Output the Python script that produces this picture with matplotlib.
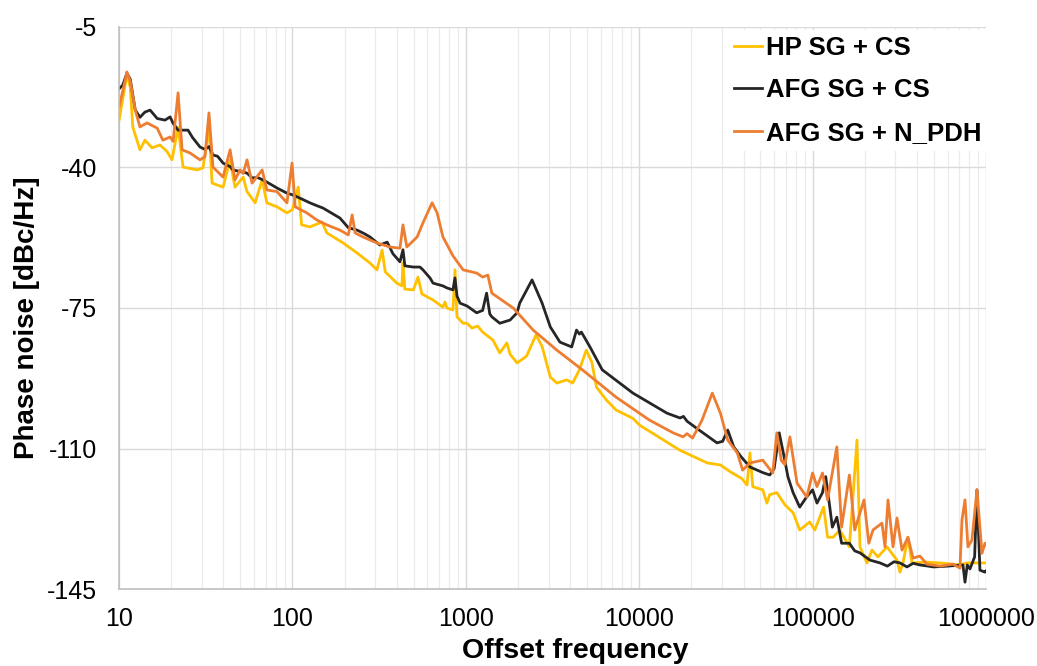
import matplotlib
matplotlib.use("Agg")
import matplotlib.pyplot as plt
import numpy as np
from matplotlib.ticker import FixedLocator, FixedFormatter, LogLocator, NullFormatter

# phase noise curves: (offset frequency [Hz], dBc/Hz)
hp_sg_cs = [
    (10, -28.2), (10.5, -23), (11.1, -16.8), (11.6, -20), (12.0, -29.9), (13.2, -35.6),
    (14.1, -33.2), (15.5, -35.1), (17.2, -34.4), (18.9, -36.0), (20.2, -38.1), (21.9, -30),
    (23.4, -39.9), (28.2, -40.6), (30.5, -40.1), (33.0, -29.9), (34.4, -43.9), (39.8, -44.9),
    (43.7, -38.1), (46.6, -44.9), (52.0, -42.4), (54.7, -46.0), (60.9, -48.8), (66.9, -43.1),
    (71.2, -48.8), (81.4, -49.8), (93, -51.3), (100, -50.5), (108, -44.9), (113, -54.3),
    (126, -54.8), (148, -53.6), (158, -56.3), (196, -58.8), (236, -61.3), (280, -63.8),
    (307, -65.5), (329, -60.6), (343, -66.0), (400, -68.8), (428, -69.5), (434, -63.8),
    (445, -70.3), (498, -70.5), (530, -67.3), (558, -71.5), (647, -73.0), (738, -74.8),
    (758, -73.5), (778, -75), (843, -75.5), (866, -65.5), (889, -77.2), (964, -78.8),
    (1016, -78.8), (1085, -80.0), (1171, -79.5), (1250, -81.0), (1434, -83.0), (1570, -86.2),
    (1725, -83.7), (1800, -86.5), (1975, -88.7), (2240, -87.0), (2540, -81.7), (2755, -84.6),
    (3070, -92.2), (3350, -93.7), (3820, -92.9), (4130, -93.7), (4520, -90.4), (4950, -85.5),
    (5330, -88.5), (5670, -94.7), (6460, -97.9), (7350, -100.4), (9200, -102.5), (10070, -104.2),
    (17120, -110.4), (24700, -113.6), (29400, -114.1), (31500, -115.0), (33800, -115.9),
    (39100, -117.5), (41900, -119.1), (43500, -111.1), (45200, -119.5), (51600, -120.3),
    (54500, -123.6), (56600, -121.5), (62200, -121.0), (69200, -124), (77200, -126),
    (84300, -130.3), (96300, -128.3), (103000, -130.3), (115800, -124.6), (122000, -132.1),
    (131500, -132.1), (143500, -130.3), (163000, -134.5), (180300, -107.9), (187600, -134.5),
    (205900, -138.5), (220100, -135.3), (238300, -137), (268500, -134.5), (306700, -137.8),
    (319200, -140.8), (332200, -138.5), (354800, -132.1), (374200, -138.5), (456600, -138.3),
    (542800, -138.5), (707900, -139), (776400, -138.5), (1000000, -138.5),
]

afg_sg_cs = [
    (10, -20.4), (10.5, -19.5), (11.1, -16.5), (11.6, -18), (12.4, -25.7), (13.2, -27.5),
    (14.1, -26.2), (15.1, -25.7), (16.6, -27.8), (18.4, -28.2), (19.7, -27.4), (20.5, -29.0),
    (21.9, -30.7), (25.0, -30.7), (26.5, -32.5), (29.3, -34.9), (31.3, -35.5), (33.0, -34.8),
    (34.8, -36.9), (37.0, -37.2), (39.8, -38.9), (43.7, -39.8), (45.4, -40.6), (50, -41.0),
    (54.7, -41.4), (58.5, -42.6), (63, -42.5), (67.6, -43.1), (75, -44.2), (81.4, -45.1),
    (93, -46.4), (100, -46.8), (110, -47.6), (126, -48.8), (138, -49.5), (150, -50.1),
    (170, -51.5), (188, -52.6), (210, -55.0), (236, -55.6), (260, -56.5), (280, -57.3),
    (319, -59.3), (352, -58.6), (380, -61.5), (417, -63.5), (434, -60.5), (445, -64.5),
    (498, -64.8), (544, -64.8), (566, -65.5), (621, -67.5), (647, -68.8), (738, -69.5),
    (778, -70.0), (843, -70.5), (866, -67.5), (889, -72), (927, -73.8), (1016, -74.5),
    (1155, -76.2), (1250, -75.6), (1318, -71.3), (1375, -76.5), (1413, -77.2), (1570, -78.8),
    (1800, -78.0), (1975, -76.2), (2045, -73.8), (2410, -68.0), (2755, -73.8), (3070, -79.7),
    (3490, -83.5), (4080, -84.7), (4350, -80.5), (4520, -81.5), (4640, -81.0), (5200, -84.7),
    (6120, -90.4), (9200, -96.2), (14460, -101.2), (17190, -102.4), (18000, -102.0),
    (18870, -103.2), (21500, -105.0), (24600, -106.8), (28100, -108.6), (30300, -108.2),
    (32400, -105.4), (35100, -109.6), (38600, -112.0), (43500, -114.6), (51600, -116.0),
    (56600, -116.6), (60000, -115), (64200, -106.1), (69200, -113), (72000, -117),
    (77200, -121), (84300, -124.6), (92600, -122), (100000, -120.3), (106000, -123.6),
    (114000, -121), (119000, -117), (126000, -125), (130000, -129.6), (138000, -127.1),
    (147000, -133.6), (163000, -133.6), (175000, -135.5), (187600, -136), (214300, -137.8),
    (244700, -138.5), (270000, -139.3), (295000, -138.2), (319200, -138.5), (350000, -139.5),
    (380000, -138.6), (416000, -139), (500000, -139.5), (600000, -139.3), (736400, -139),
    (756800, -143.3), (780000, -139), (808500, -140), (860000, -137), (887100, -120.3),
    (922900, -140.3), (986300, -140.8), (1000000, -140.5),
]

afg_sg_npdh = [
    (10, -24.9), (10.5, -21), (11.1, -16.2), (11.6, -18.5), (12.4, -25.7), (13.2, -29.9),
    (14.5, -28.9), (16.6, -30.2), (17.9, -33.2), (19.7, -32.4), (20.5, -33.5), (21.9, -21.4),
    (23.1, -35.6), (25.7, -36.4), (29.3, -38.1), (31.3, -37.3), (33.0, -26.4), (34.8, -39.9),
    (39.8, -42.4), (43.7, -35.6), (46.6, -43.1), (49.9, -40.6), (52, -41.5), (54.7, -38.1),
    (58.5, -43.9), (66.9, -40.6), (71.2, -45.6), (81.4, -46.0), (93, -48.8), (99.5, -38.9),
    (103.7, -49.8), (121, -51.3), (138.5, -53.1), (158, -54.3), (188, -55.6), (210, -56.8),
    (221, -51.8), (230, -56.3), (255, -57.3), (307, -58.8), (364, -59.8), (417, -60.1),
    (434, -54.3), (457, -59.8), (524, -57.3), (566, -53.8), (639, -48.8), (683, -51.3),
    (738, -57.3), (843, -62), (964, -65.5), (1155, -66.3), (1250, -67.3), (1340, -66.8),
    (1413, -71.3), (1876, -75.0), (2445, -80.5), (3350, -85.5), (4700, -90.4), (7350, -97.2),
    (11430, -102.9), (15700, -106.1), (17900, -107.1), (18870, -106.3), (20300, -107.4),
    (23000, -103), (26400, -96.2), (29400, -101.2), (32400, -107.9), (36800, -111.1),
    (39500, -115.4), (43500, -113.6), (51600, -112.9), (58900, -116.1), (62200, -106.1),
    (66000, -113), (69200, -114), (74000, -107.1), (81300, -118.6), (92600, -122.1),
    (100000, -116.1), (106000, -119.5), (114000, -116.1), (122000, -122.8), (138000, -109.6),
    (147000, -129.6), (163000, -116.6), (175000, -130.3), (198000, -122.8), (211000, -133.6),
    (223000, -130.3), (251200, -128.6), (261600, -134.5), (272200, -122.8), (290900, -134.5),
    (306700, -127.3), (327900, -135.3), (354800, -132.1), (379400, -137.3), (416000, -136.8),
    (456600, -138.8), (542800, -139.3), (645200, -138.8), (707900, -139.8), (727000, -127.8),
    (756800, -122.8), (787000, -134.5), (830000, -132.8), (887100, -120.3), (948300, -136.1),
    (986300, -133.6), (1000000, -134),
]

series_labels = ["HP SG + CS", "AFG SG + CS", "AFG SG + N_PDH"]
series_colors = ["#FFC000", "#262626", "#ED7D31"]
y_ticks = [-5, -40, -75, -110, -145]
x_ticks = [10, 100, 1000, 10000, 100000, 1000000]

plt.rcParams["font.family"] = ["Liberation Sans", "DejaVu Sans"]
plt.rcParams["axes.unicode_minus"] = False

fig = plt.figure(figsize=(10.37, 6.66), dpi=100)
ax = fig.add_axes([0.1148, 0.1156, 0.836, 0.8439])

for data, label, color in zip([hp_sg_cs, afg_sg_cs, afg_sg_npdh], series_labels, series_colors):
    arr = np.array(data)
    ax.plot(arr[:, 0], arr[:, 1], color=color, lw=2.0, label=label, solid_joinstyle="round")

ax.set_xscale("log")
ax.set_xlim(10, 1e6)
ax.set_ylim(-145, -5)

ax.xaxis.set_major_locator(FixedLocator(x_ticks))
ax.xaxis.set_major_formatter(FixedFormatter([str(t) for t in x_ticks]))
ax.xaxis.set_minor_locator(LogLocator(base=10, subs=np.arange(2, 10)))
ax.xaxis.set_minor_formatter(NullFormatter())
ax.set_yticks(y_ticks)

ax.grid(True, which="major", color="#D9D9D9", lw=1.0)
ax.grid(True, which="minor", axis="x", color="#EBEBEB", lw=0.9)
ax.set_axisbelow(True)

for side in ["top", "right"]:
    ax.spines[side].set_visible(False)
for side in ["left", "bottom"]:
    ax.spines[side].set_color("#BFBFBF")
    ax.spines[side].set_linewidth(1.2)

ax.tick_params(axis="both", which="both", length=0, labelsize=18)
ax.tick_params(axis="y", pad=16)
ax.tick_params(axis="x", pad=13)

ax.set_xlabel("Offset frequency", fontsize=20.5, fontweight="bold")
ax.xaxis.set_label_coords(0.526, -0.088)
ax.set_ylabel("Phase noise [dBc/Hz]", fontsize=20, fontweight="bold")
ax.yaxis.set_label_coords(-0.091, 0.482)

leg = ax.legend(loc="upper right", bbox_to_anchor=(1.005, 1.0), borderaxespad=0.1,
                prop={"size": 18.5, "weight": "bold"}, handlelength=1.09, handletextpad=0.16,
                labelspacing=0.72, frameon=True, fancybox=False, borderpad=0.25)
leg.get_frame().set_facecolor("white")
leg.get_frame().set_edgecolor("none")
leg.get_frame().set_alpha(1.0)

fig.savefig("out.png", dpi=100)
